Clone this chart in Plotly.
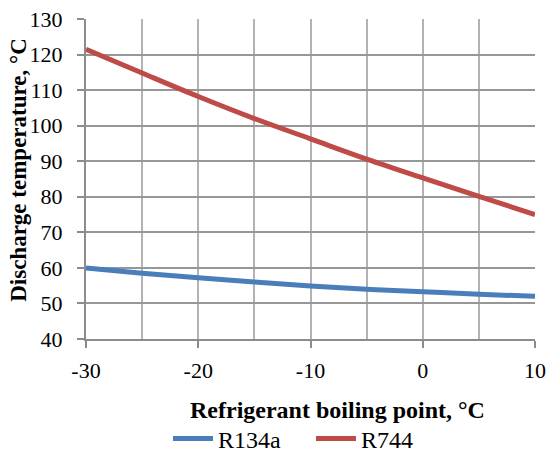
import plotly.graph_objects as go

boiling_point = [-30, -25, -20, -15, -10, -5, 0, 5, 10]
r134a = [60.0, 58.5, 57.2, 56.0, 54.9, 54.0, 53.3, 52.6, 52.0]
r744 = [121.5, 114.8, 108.2, 102.0, 96.3, 90.6, 85.3, 80.1, 75.0]
x_ticks = [-30, -20, -10, 0, 10]
x_tick_labels = ["-30", "-20", "-10", "0", "10"]
y_ticks = [40, 50, 60, 70, 80, 90, 100, 110, 120, 130]

fig = go.Figure()
fig.add_trace(go.Scatter(x=boiling_point, y=r134a, mode="lines", name="R134a",
                         line=dict(color="#4a7ebb", width=5, shape="spline")))
fig.add_trace(go.Scatter(x=boiling_point, y=r744, mode="lines", name="R744",
                         line=dict(color="#be4b48", width=5, shape="spline")))

font = "Liberation Serif"
fig.update_layout(
    width=546, height=453,
    margin=dict(l=86, r=11, t=19, b=114, autoexpand=False),
    paper_bgcolor="white", plot_bgcolor="white",
    font=dict(family=font, color="black", size=22),
    showlegend=True,
    legend=dict(orientation="h", x=0.1826, xanchor="left", y=-0.3125, yanchor="middle",
                font=dict(size=24), itemwidth=40, entrywidth=88, entrywidthmode="pixels",
                tracegroupgap=0, bgcolor="rgba(0,0,0,0)"),
    xaxis=dict(range=[-30, 10], tickvals=x_ticks, ticktext=x_tick_labels,
               showgrid=True, gridcolor="#b3b3b3", gridwidth=2,
               minor=dict(dtick=5, tick0=-30, showgrid=True, gridcolor="#b3b3b3", gridwidth=2),
               showline=True, linecolor="#8c8c8c", linewidth=2,
               ticks="outside", ticklen=7, tickwidth=2, tickcolor="#8c8c8c",
               ticklabelstandoff=4, ticklabeloverflow="allow",
               zeroline=False, automargin=False),
    yaxis=dict(range=[40, 130], tickvals=y_ticks,
               showgrid=True, gridcolor="#979797", gridwidth=2,
               showline=True, linecolor="#8c8c8c", linewidth=2,
               ticks="outside", ticklen=7, tickwidth=2, tickcolor="#8c8c8c",
               ticklabelstandoff=10, ticklabeloverflow="allow",
               zeroline=False, automargin=False),
    annotations=[
        dict(text="<b>Refrigerant boiling point, °C</b>", xref="paper", yref="paper",
             x=0.56, y=-0.222, xanchor="center", yanchor="middle", showarrow=False,
             font=dict(size=24)),
        dict(text="<b>Discharge temperature, °C</b>", xref="paper", yref="paper",
             x=-0.152, y=0.528, xanchor="center", yanchor="middle", showarrow=False,
             textangle=-90, font=dict(size=23)),
    ],
)
fig.write_html("out.html", config={"displayModeBar": False},
               post_script="document.body.style.margin='0';")
